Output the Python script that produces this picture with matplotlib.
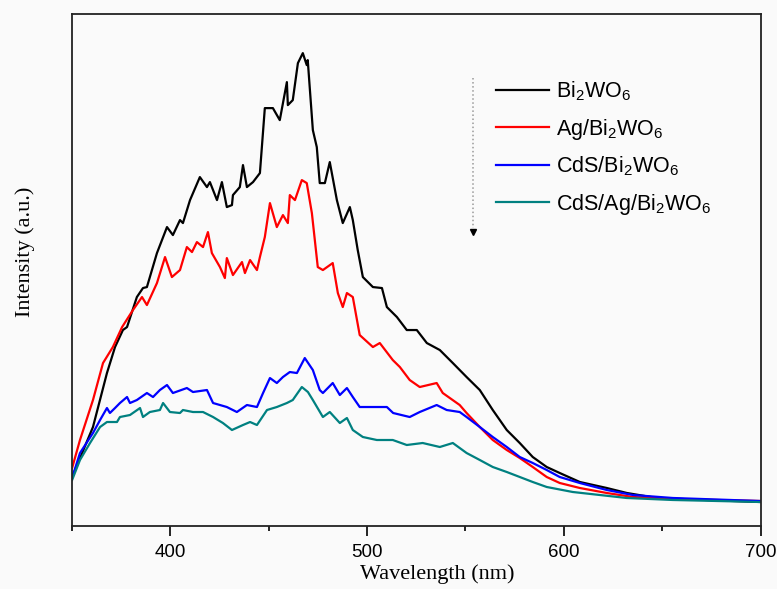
import matplotlib
matplotlib.use("Agg")
import matplotlib.pyplot as plt
from matplotlib.ticker import MultipleLocator, NullLocator

# PL spectra (wavelength in nm, intensity in a.u.)
wl_bwo = [350.2, 360.8, 367.9, 372.0, 376.0, 378.1, 383.1, 386.2, 388.2, 393.3, 398.4, 401.4,
          405.0, 406.5, 410.1, 415.1, 418.7, 420.2, 423.8, 426.3, 428.8, 431.4, 431.9, 435.4,
          437.0, 439.0, 442.1, 445.6, 448.1, 452.2, 455.7, 459.3, 459.8, 462.3, 464.9, 467.4,
          469.4, 469.9, 472.5, 474.5, 476.0, 478.6, 481.1, 484.7, 487.7, 491.3, 492.8, 495.3,
          497.9, 503.0, 507.6, 510.1, 515.2, 520.2, 525.3, 530.4, 537.0, 543.6, 550.6, 557.3,
          563.9, 571.0, 577.6, 584.2, 591.3, 597.9, 608.1, 621.8, 632.0, 647.2, 672.5, 699.5]
i_bwo = [49, 99, 153, 179, 196, 199, 229, 238, 239, 273, 299, 291,
         306, 303, 326, 349, 339, 344, 326, 344, 319, 321, 331, 339,
         361, 339, 344, 353, 418, 418, 406, 444, 421, 426, 463, 473,
         461, 466, 396, 379, 343, 343, 364, 326, 303, 319, 306, 276,
         249, 239, 238, 219, 209, 196, 196, 183, 176, 163, 149, 136,
         116, 96, 83, 69, 59, 53, 44, 38, 33, 28, 26, 24]

wl_ag = [350.2, 354.2, 360.8, 365.9, 370.9, 375.6, 381.1, 385.7, 388.2, 393.3, 397.4, 400.9,
         405.0, 408.5, 411.1, 413.6, 416.7, 419.2, 421.2, 425.3, 427.8, 428.8, 431.9, 436.5,
         438.0, 440.6, 444.1, 445.6, 448.1, 450.7, 454.2, 457.3, 459.8, 460.8, 463.4, 466.9,
         469.4, 472.0, 475.0, 477.6, 482.6, 485.2, 487.7, 489.8, 492.8, 496.3, 503.0, 506.5,
         513.1, 516.7, 521.7, 526.8, 535.4, 538.5, 547.1, 550.6, 557.3, 563.9, 571.0, 577.6,
         584.2, 591.3, 597.9, 608.1, 621.8, 635.0, 655.3, 699.5]
i_ag = [58, 86, 126, 163, 179, 199, 216, 229, 221, 243, 269, 249,
        256, 279, 274, 284, 279, 294, 273, 259, 248, 268, 251, 264,
        253, 266, 256, 269, 289, 323, 299, 311, 303, 331, 326, 346,
        343, 313, 259, 256, 263, 233, 219, 233, 229, 191, 179, 183,
        166, 159, 146, 139, 143, 133, 121, 113, 99, 86, 76, 68,
        59, 49, 43, 38, 33, 29, 27, 25]

wl_cds = [350.2, 354.2, 360.8, 364.4, 367.9, 369.4, 372.0, 374.5, 378.1, 379.6, 383.1, 388.2,
          391.3, 394.8, 398.4, 401.4, 408.5, 411.6, 418.7, 421.8, 428.8, 433.9, 439.0, 444.1,
          447.2, 450.7, 454.2, 457.3, 460.8, 464.4, 468.4, 472.5, 476.0, 477.6, 482.6, 486.2,
          489.8, 492.8, 496.3, 503.0, 510.1, 513.3, 521.7, 526.8, 535.4, 540.5, 547.1, 550.6,
          557.3, 563.9, 571.0, 577.6, 584.2, 591.3, 597.9, 608.1, 621.8, 635.0, 655.3, 699.5]
i_cds = [48, 73, 93, 106, 118, 113, 118, 123, 129, 123, 126, 133,
         129, 136, 141, 133, 138, 134, 136, 123, 119, 114, 121, 119,
         133, 148, 143, 149, 154, 153, 168, 156, 136, 133, 143, 131,
         138, 129, 119, 119, 119, 113, 109, 114, 121, 116, 114, 109,
         99, 89, 79, 69, 63, 56, 49, 43, 36, 31, 28, 25]

wl_cds_ag = [350.2, 354.2, 359.3, 364.4, 367.9, 373.0, 374.5, 379.6, 384.7, 386.2, 389.7, 394.8,
             396.4, 399.9, 405.0, 406.5, 411.6, 416.7, 421.8, 426.8, 431.4, 437.0, 440.6, 444.1,
             449.2, 454.2, 459.3, 462.3, 466.9, 470.0, 472.5, 477.6, 481.1, 486.2, 489.8, 492.8,
             497.9, 505.0, 513.1, 520.2, 528.3, 537.0, 543.6, 550.6, 557.3, 563.9, 571.0, 577.6,
             584.2, 591.3, 604.5, 618.2, 631.9, 655.3, 699.5]
i_cds_ag = [46, 66, 83, 99, 104, 104, 109, 111, 118, 109, 114, 116,
            123, 114, 113, 116, 114, 114, 109, 103, 96, 101, 104, 101,
            116, 119, 123, 126, 139, 134, 126, 109, 114, 103, 108, 96,
            89, 86, 86, 81, 83, 79, 83, 73, 66, 59, 54, 49,
            44, 39, 34, 31, 28, 26, 24]

labels = ["Bi$_2$WO$_6$", "Ag/Bi$_2$WO$_6$", "CdS/Bi$_2$WO$_6$", "CdS/Ag/Bi$_2$WO$_6$"]
colors = ["black", "#ff0000", "#0000ff", "#008080"]

plt.rcParams['mathtext.fontset'] = 'custom'
plt.rcParams['mathtext.rm'] = 'Liberation Sans'
plt.rcParams['mathtext.it'] = 'Liberation Sans'

fig = plt.figure(figsize=(7.77, 5.89), dpi=100, facecolor="#fafafa")
ax = fig.add_axes([0.0923, 0.107, 0.8867, 0.869])
ax.set_facecolor("#fafafa")

series = [(wl_bwo, i_bwo), (wl_ag, i_ag), (wl_cds, i_cds), (wl_cds_ag, i_cds_ag)]
for (x, y), lab, c in zip(series, labels, colors):
    ax.plot(x, y, color=c, lw=1.6, label=lab)

ax.set_xlim(350, 700)
ax.set_ylim(0, 512)
ax.xaxis.set_major_locator(MultipleLocator(100))
ax.xaxis.set_minor_locator(MultipleLocator(50))
ax.yaxis.set_major_locator(NullLocator())
ax.tick_params(axis="x", which="major", direction="out", length=7, width=1.2, pad=6,
               labelsize=13.5)
ax.tick_params(axis="x", which="minor", direction="out", length=3.5, width=1.2)
for lbl in ax.get_xticklabels():
    lbl.set_fontfamily("Liberation Sans")
for sp in ax.spines.values():
    sp.set_linewidth(1.3)
    sp.set_color("#222222")

ax.set_xlabel("Wavelength (nm)", fontfamily="Liberation Serif", fontsize=16)
ax.set_ylabel("Intensity (a.u.)", fontfamily="Liberation Serif", fontsize=16)
ax.xaxis.set_label_coords(0.53, -0.074)
ax.yaxis.set_label_coords(-0.054, 0.535)

# dotted arrow showing the decreasing trend
ax.plot([553.7, 553.7], [448, 298], ls=":", color="#999999", lw=1.1)
ax.plot([553.7], [294], marker="v", color="black", ms=5)

leg = ax.legend(loc="upper left", bbox_to_anchor=(0.587, 0.91), frameon=False,
                prop={"family": "Liberation Sans", "size": 15.5}, handlelength=2.5,
                handletextpad=0.3, labelspacing=0.62)

fig.savefig("out.png", dpi=100, facecolor=fig.get_facecolor())
